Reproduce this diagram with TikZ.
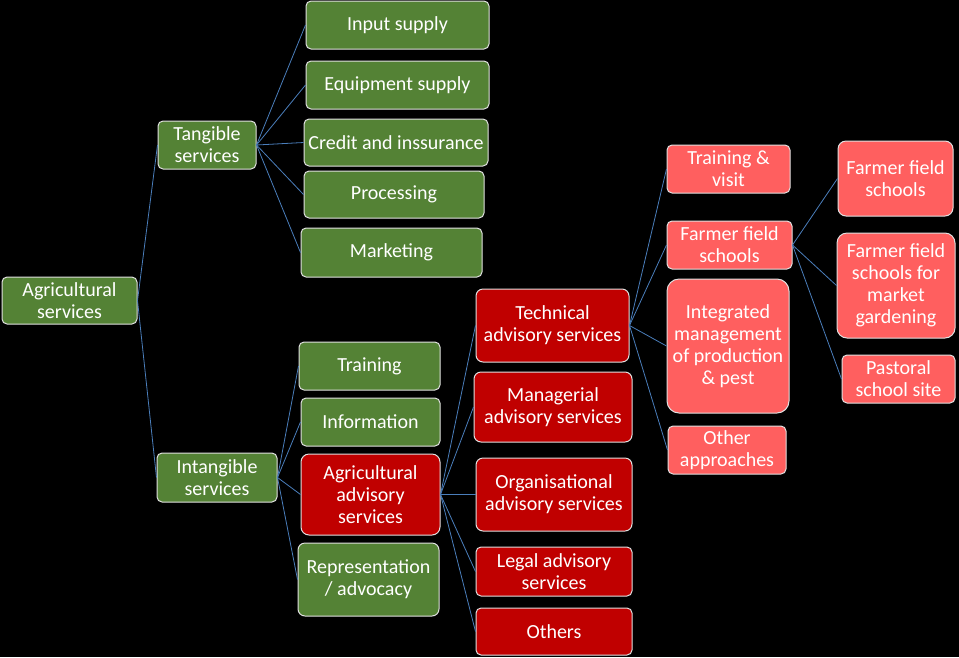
\documentclass[tikz,border=0pt]{standalone}
\usepackage{fontspec}
\setmainfont{Carlito}
\usepackage{xcolor}
\usepackage{tikz}

\definecolor{leafgreen}{RGB}{84,130,53}
\definecolor{darkred}{RGB}{192,0,0}
\definecolor{salmon}{RGB}{255,95,95}
\definecolor{linkblue}{RGB}{74,126,187}

\begin{document}
\begin{tikzpicture}[x=1pt,y=-1pt,
  box/.style={rectangle,rounded corners=5pt,draw=white!88!black,line width=1pt,
    text=white,align=center,inner sep=0pt,font=\fontsize{20}{22}\selectfont},
  gbox/.style={box,fill=leafgreen},
  rbox/.style={box,fill=darkred},
  sbox/.style={box,fill=salmon},
  link/.style={draw=linkblue,line width=0.8pt}]
  \fill[black] (0,0) rectangle (959,657);
  \useasboundingbox (0,0) rectangle (959,657);

  % first and second level
  \node[gbox,minimum width=135,minimum height=47] (agri) at (69.5,300.5) {Agricultural\\services};
  \node[gbox,minimum width=98,minimum height=48] (tang) at (207,145) {Tangible\\services};
  \node[gbox,minimum width=120,minimum height=49] (intang) at (217,477.5) {Intangible\\services};
  \draw[link] (agri.east)--(tang.west); \draw[link] (agri.east)--(intang.west);

  % tangible services
  \node[gbox,minimum width=183,minimum height=48] (input) at (397.5,25) {Input supply};
  \node[gbox,minimum width=183,minimum height=48] (equip) at (397.5,85) {Equipment supply};
  \node[gbox,minimum width=184,minimum height=47] (credit) at (396,142.5) {Credit and inssurance};
  \node[gbox,minimum width=180,minimum height=47] (proc) at (394,194.5) {Processing};
  \node[gbox,minimum width=181,minimum height=49] (market) at (391.5,252.5) {Marketing};
  \draw[link] (tang.east)--(input.west); \draw[link] (tang.east)--(equip.west);
  \draw[link] (tang.east)--(credit.west); \draw[link] (tang.east)--(proc.west);
  \draw[link] (tang.east)--(market.west);

  % intangible services
  \node[gbox,minimum width=141,minimum height=48] (train) at (369.5,366) {Training};
  \node[gbox,minimum width=139,minimum height=48] (info) at (370.5,422) {Information};
  \node[rbox,minimum width=139,minimum height=81,rounded corners=8pt] (agriadv) at (370.5,494.5) {Agricultural\\advisory\\services};
  \node[gbox,minimum width=141,minimum height=73,rounded corners=7pt] (repr) at (368.5,579.5) {Representation\\/ advocacy};
  \draw[link] (intang.east)--(train.west); \draw[link] (intang.east)--(info.west);
  \draw[link] (intang.east)--(agriadv.west); \draw[link] (intang.east)--(repr.west);

  % advisory services
  \node[rbox,minimum width=153,minimum height=73,rounded corners=7pt] (tech) at (552.5,325.5) {Technical\\advisory services};
  \node[rbox,minimum width=158,minimum height=70,rounded corners=7pt] (manag) at (553,407) {Managerial\\advisory services};
  \node[rbox,minimum width=156,minimum height=73,rounded corners=7pt] (organ) at (554,494.5) {Organisational\\advisory services};
  \node[rbox,minimum width=156,minimum height=49] (legal) at (554,571.5) {Legal advisory\\services};
  \node[rbox,minimum width=156,minimum height=47] (others) at (554,631.5) {Others};
  \draw[link] (agriadv.east)--(tech.west); \draw[link] (agriadv.east)--(manag.west);
  \draw[link] (agriadv.east)--(organ.west); \draw[link] (agriadv.east)--(legal.west);
  \draw[link] (agriadv.east)--(others.west);

  % technical approaches
  \node[sbox,minimum width=123,minimum height=48] (tv) at (728.5,169) {Training \&\\visit};
  \node[sbox,minimum width=125,minimum height=48] (ffs) at (729.5,245) {Farmer field\\schools};
  \node[sbox,minimum width=122,minimum height=134,rounded corners=12pt] (ipm) at (728,346) {Integrated\\management\\of production\\\& pest};
  \node[sbox,minimum width=118,minimum height=48] (otherapp) at (727,450) {Other\\approaches};
  \draw[link] (tech.east)--(tv.west); \draw[link] (tech.east)--(ffs.west);
  \draw[link] (tech.east)--(ipm.west); \draw[link] (tech.east)--(otherapp.west);

  % farmer field schools
  \node[sbox,minimum width=115,minimum height=75,rounded corners=8pt] (ffsr) at (895.5,178.5) {Farmer field\\schools};
  \node[sbox,minimum width=118,minimum height=105,rounded corners=10pt] (ffsm) at (896,285.5) {Farmer field\\schools for\\market\\gardening};
  \node[sbox,minimum width=113,minimum height=48] (pastoral) at (898.5,379) {Pastoral\\school site};
  \draw[link] (ffs.east)--(ffsr.west); \draw[link] (ffs.east)--(ffsm.west);
  \draw[link] (ffs.east)--(pastoral.west);
\end{tikzpicture}
\end{document}
